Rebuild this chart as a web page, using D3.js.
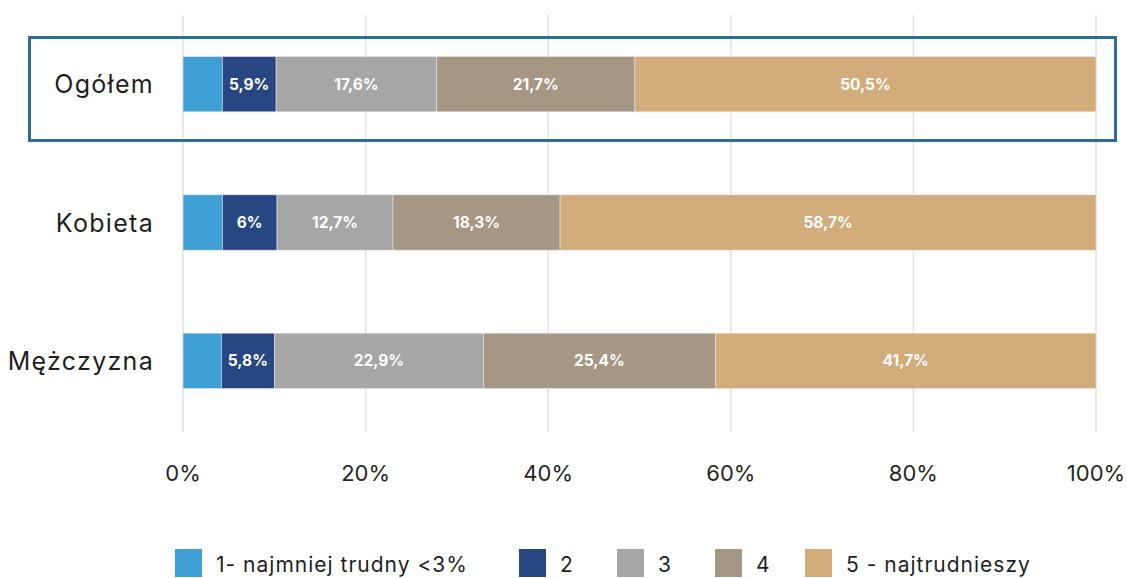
<!DOCTYPE html>
<html>
<head>
<meta charset="utf-8">
<script src="https://cdn.jsdelivr.net/npm/d3@7"></script>
<style>
  html, body { margin: 0; padding: 0; background: #fff; }
  svg { display: block; font-family: "Inter", "Noto Sans", sans-serif; }
</style>
</head>
<body>
<svg id="chart" width="1127" height="578"></svg>
<script>
// Rows of the stacked chart
const categories = ["Ogółem", "Kobieta", "Mężczyzna"];
// Share of answers per rating (percent)
const legendLabels = ["1- najmniej trudny <3%", "2", "3", "4", "5 - najtrudnieszy"];
const s1 = [4.3, 4.3, 4.2];
const s2 = [5.9, 6, 5.8];
const s3 = [17.6, 12.7, 22.9];
const s4 = [21.7, 18.3, 25.4];
const s5 = [50.5, 58.7, 41.7];
const tickValues = [0, 20, 40, 60, 80, 100];
const colors = ["#3fa0d6", "#284682", "#a6a6a6", "#a69684", "#d2ac7b"];

const svg = d3.select("#chart");
const x = d3.scaleLinear().domain([0, 100]).range([183, 1096]);
const y = d3.scaleBand().domain(categories).range([15, 430]).paddingInner(0.6).paddingOuter(0.3);

// vertical gridlines
svg.append("g").selectAll("line").data(tickValues).join("line")
  .attr("x1", d => x(d)).attr("x2", d => x(d))
  .attr("y1", 15).attr("y2", 432)
  .attr("stroke", "#e2e2e2").attr("stroke-width", 1.5);

// stack the series
const rows = categories.map((c, i) => ({ cat: c, vals: [s1[i], s2[i], s3[i], s4[i], s5[i]] }));
const segs = [];
rows.forEach(r => {
  let acc = 0;
  r.vals.forEach((v, k) => {
    segs.push({ cat: r.cat, k, v, x0: acc, x1: acc + v });
    acc += v;
  });
});

svg.append("g").selectAll("rect").data(segs).join("rect")
  .attr("x", d => x(d.x0))
  .attr("y", d => y(d.cat))
  .attr("width", d => x(d.x1) - x(d.x0))
  .attr("height", y.bandwidth())
  .attr("fill", d => colors[d.k])
  .attr("stroke", "#e6e6e6").attr("stroke-width", 0.6);

// value labels (first series is too narrow to carry one)
svg.append("g").selectAll("text").data(segs.filter(d => d.k > 0)).join("text")
  .attr("x", d => (x(d.x0) + x(d.x1)) / 2)
  .attr("y", d => y(d.cat) + y.bandwidth() / 2)
  .attr("dy", "0.36em")
  .attr("text-anchor", "middle")
  .attr("fill", "#fff")
  .attr("font-size", 15.5)
  .attr("font-weight", 700)
  .text(d => String(d.v).replace(".", ",") + "%");

// category labels (x nudged right to offset trailing letter-spacing)
svg.append("g").selectAll("text").data(categories).join("text")
  .attr("x", 154)
  .attr("y", d => y(d) + y.bandwidth() / 2)
  .attr("dy", "0.36em")
  .attr("text-anchor", "end")
  .attr("fill", "#1f1f1f")
  .attr("font-size", 25)
  .attr("letter-spacing", 1.3)
  .text(d => d);

// x axis tick labels
svg.append("g").selectAll("text").data(tickValues).join("text")
  .attr("x", d => x(d))
  .attr("y", 473)
  .attr("dy", "0.36em")
  .attr("text-anchor", "middle")
  .attr("fill", "#262626")
  .attr("font-size", 22)
  .text(d => d + "%");

// highlight frame around the overall row
svg.append("rect")
  .attr("x", 29.5).attr("y", 37.5)
  .attr("width", 1086).attr("height", 103)
  .attr("fill", "none")
  .attr("stroke", "#2f6e94").attr("stroke-width", 3);

// legend
const legendX = [175, 519, 617, 715, 805];
const lg = svg.append("g").selectAll("g").data(legendLabels).join("g")
  .attr("transform", (d, i) => `translate(${legendX[i]},549)`);
lg.append("rect").attr("width", 27).attr("height", 28).attr("fill", (d, i) => colors[i]);
lg.append("text")
  .attr("x", 41).attr("y", 15).attr("dy", "0.36em")
  .attr("fill", "#1f1f1f").attr("font-size", 21)
  .attr("letter-spacing", 1)
  .text(d => d);
</script>
</body>
</html>
